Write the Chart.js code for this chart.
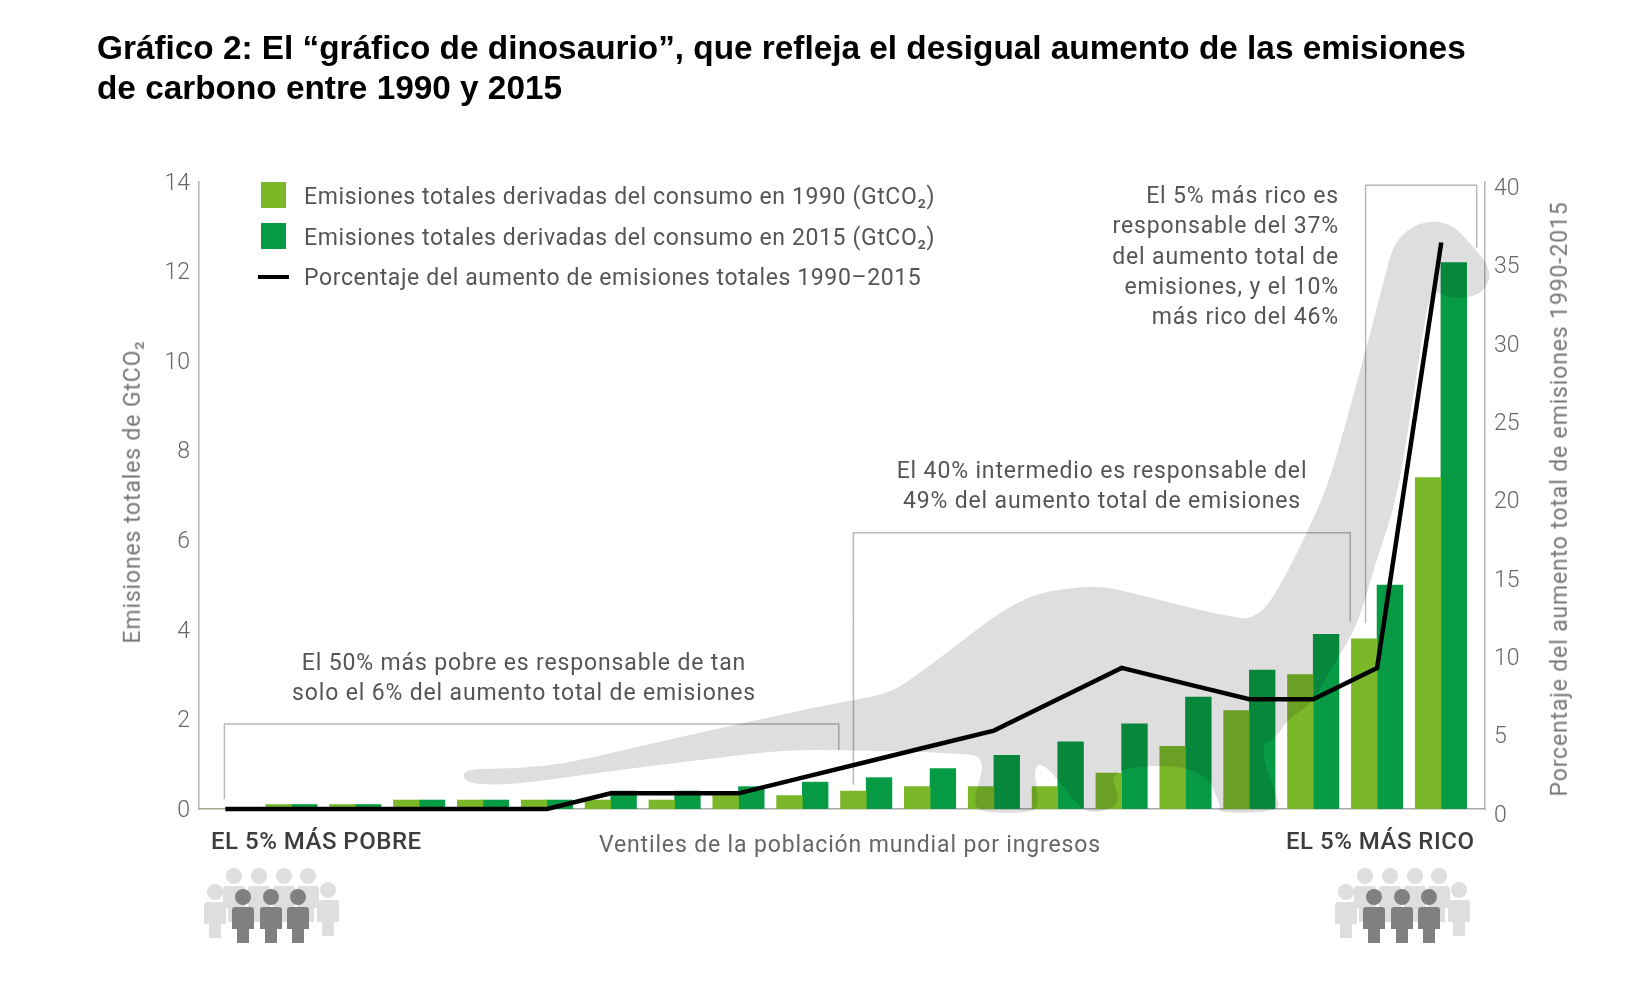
<!DOCTYPE html>
<html lang="es">
<head>
<meta charset="utf-8">
<title>Gráfico de dinosaurio</title>
<script src="https://cdn.jsdelivr.net/npm/chart.js@4"></script>
<style>
    html, body { margin: 0; background: #fff; }
    #page { position: relative; width: 1650px; height: 1006px; overflow: hidden; }
    #chart { position: absolute; left: 0; top: 0; }
    h1 {
        position: absolute; left: 97px; top: 28px; margin: 0; width: 1500px;
        font: bold 33.35px/40px "Liberation Sans", Arial, sans-serif; color: #000;
    }
    .txt {
        position: absolute; white-space: nowrap;
        font: 400 23px/30.3px Roboto, sans-serif; letter-spacing: .85px; color: #555;
    }
    .center { transform: translateX(-50%); text-align: center; }
    .right { transform: translateX(-100%); text-align: right; }
    .strong { font-weight: 500; font-size: 24px; letter-spacing: .5px; color: #3d3d3d; }
    .rot { transform: translate(-50%, -50%) rotate(-90deg); color: #777; }
    .swatch { position: absolute; left: 261px; width: 25px; height: 26px; }
    #people1, #people2 { position: absolute; top: 860px; width: 160px; height: 100px; }
</style>
</head>
<body>
<div id="page">
    <canvas id="chart" width="1650" height="1006"></canvas>
    <h1>Gráfico 2: El “gráfico de dinosaurio”, que refleja el desigual aumento de las emisiones<br>de carbono entre 1990 y 2015</h1>
    <div id="legend"></div>
    <div class="txt center" style="left:524px; top:648px;">El 50% más pobre es responsable de tan<br>solo el 6% del aumento total de emisiones</div>
    <div class="txt center" style="left:1102px; top:456px;">El 40% intermedio es responsable del<br>49% del aumento total de emisiones</div>
    <div class="txt right" style="left:1339px; top:181px;">El 5% más rico es<br>responsable del 37%<br>del aumento total de<br>emisiones, y el 10%<br>más rico del 46%</div>
    <div class="txt strong" style="left:211px; top:826px;">EL 5% MÁS POBRE</div>
    <div class="txt strong" style="left:1286px; top:826px;">EL 5% MÁS RICO</div>
    <div class="txt center" style="left:850px; top:830px; color:#666;">Ventiles de la población mundial por ingresos</div>
    <div class="txt rot" style="left:133px; top:492px;">Emisiones totales de GtCO₂</div>
    <div class="txt rot" style="left:1560px; top:499px;">Porcentaje del aumento total de emisiones 1990-2015</div>
    <svg id="people1" style="left:195px;" viewBox="0 0 160 100"><use href="#crowd"></use></svg>
    <svg id="people2" style="left:1326px;" viewBox="0 0 160 100"><use href="#crowd"></use></svg>
    <svg width="0" height="0" style="position:absolute">
        <defs>
            <g id="man">
                <circle cx="0" cy="0" r="8"></circle>
                <path d="M-8 10 H8 Q11 10 11 13 V32 H6 V46 H-6 V32 H-11 V13 Q-11 10 -8 10 Z"></path>
            </g>
            <g id="crowd">
                <g fill="#dedede">
                    <use href="#man" x="39" y="16"></use>
                    <use href="#man" x="64" y="16"></use>
                    <use href="#man" x="89" y="16"></use>
                    <use href="#man" x="113" y="16"></use>
                    <use href="#man" x="20" y="32"></use>
                    <use href="#man" x="133" y="30"></use>
                </g>
                <g fill="#808080">
                    <use href="#man" x="48" y="37"></use>
                    <use href="#man" x="76" y="37"></use>
                    <use href="#man" x="103" y="37"></use>
                </g>
            </g>
        </defs>
    </svg>
</div>
<script>
// 数据
const ventiles = ['V1', 'V2', 'V3', 'V4', 'V5', 'V6', 'V7', 'V8', 'V9', 'V10', 'V11', 'V12', 'V13', 'V14', 'V15', 'V16', 'V17', 'V18', 'V19', 'V20'];
const emissions1990 = [0, 0.1, 0.1, 0.2, 0.2, 0.2, 0.2, 0.2, 0.3, 0.3, 0.4, 0.5, 0.5, 0.5, 0.8, 1.4, 2.2, 3.0, 3.8, 7.4];
const emissions2015 = [0, 0.1, 0.1, 0.2, 0.2, 0.2, 0.4, 0.4, 0.5, 0.6, 0.7, 0.9, 1.2, 1.5, 1.9, 2.5, 3.1, 3.9, 5.0, 12.2];
const increaseShare = [0, 0, 0, 0, 0, 0, 1, 1, 1, 2, 3, 4, 5, 7, 9, 8, 7, 7, 9, 36];
const legendLabels = [
    'Emisiones totales derivadas del consumo en 1990 (GtCO₂)',
    'Emisiones totales derivadas del consumo en 2015 (GtCO₂)',
    'Porcentaje del aumento de emisiones totales 1990–2015'
];
const leftTicks = [0, 2, 4, 6, 8, 10, 12, 14];
const rightTicks = [0, 5, 10, 15, 20, 25, 30, 35, 40];

// 恐龙轮廓 (x: ventil, y: GtCO2)
const dinoX = [3.70, 4.53, 5.31, 6.10, 7.13, 8.18, 9.23, 10.22, 10.53, 11.05, 11.58, 12.10, 12.61, 13.14, 13.66, 14.18, 14.71, 15.23, 15.74, 16.01, 16.28, 16.59, 16.90, 17.22, 17.47, 17.78, 18.00, 18.20, 18.31, 18.56, 18.88, 19.19, 19.41, 19.57, 19.72, 19.78, 19.66, 19.41, 19.09, 18.88, 18.78, 18.56, 18.31, 17.94, 17.69, 17.26, 17.00, 16.59, 16.43, 16.14, 16.48, 16.43, 16.01, 15.49, 15.57, 15.26, 13.77, 14.01, 13.66, 13.35, 12.83, 12.61, 12.72, 12.52, 11.83, 11.66, 11.89, 11.42, 9.75, 8.70, 7.66, 6.61, 5.57, 4.53, 4.00, 3.70];
const dinoY = [0.90, 0.90, 1.02, 1.28, 1.62, 1.95, 2.28, 2.54, 2.72, 3.26, 3.84, 4.40, 4.78, 4.93, 4.98, 4.82, 4.62, 4.44, 4.29, 4.24, 4.51, 5.27, 6.16, 7.19, 8.40, 10.03, 11.21, 12.33, 12.70, 13.02, 13.14, 13.03, 12.70, 12.44, 12.19, 11.88, 11.54, 11.41, 11.43, 11.59, 11.21, 9.13, 6.90, 5.34, 4.06, 3.10, 2.37, 1.99, 1.61, 1.38, 0.13, -0.02, -0.09, -0.07, 0.02, 0.98, 0.94, 0.13, -0.09, -0.02, 0.98, 0.98, 0.04, -0.09, -0.09, 0.13, 1.16, 1.25, 1.32, 1.32, 1.14, 0.96, 0.76, 0.56, 0.54, 0.62];

// 括号 (x0, x1, 顶部, 左端, 右端)
const brackets = [
    [-0.05, 9.57, 1.90, 0.22, 1.32],
    [9.80, 17.58, 6.17, 0.54, 4.18],
    [17.82, 19.56, 13.93, 4.15, 12.53]
];

const lightGreen = '#7ab829';
const darkGreen = '#069b44';

function points(values) {
    return values.map((v, i) => ({ x: i, y: v }));
}

// 图例
function renderLegend() {
    const legend = document.getElementById('legend');
    const tops = [182, 223];
    tops.forEach((top, i) => {
        const box = document.createElement('div');
        box.className = 'swatch';
        box.style.top = top + 'px';
        box.style.background = i === 0 ? lightGreen : darkGreen;
        legend.appendChild(box);
    });
    const dash = document.createElement('div');
    dash.style.cssText = 'position:absolute;left:258px;top:275px;width:31px;height:4px;background:#000;';
    legend.appendChild(dash);
    legendLabels.forEach((label, i) => {
        const item = document.createElement('div');
        item.className = 'txt';
        item.style.left = '304px';
        item.style.letterSpacing = '.62px';
        item.style.top = (182 + i * 40.5) + 'px';
        item.textContent = label;
        legend.appendChild(item);
    });
}

// 括号线
const bracketPlugin = {
    id: 'brackets',
    beforeDatasetsDraw(chart) {
        const { ctx, scales } = chart;
        ctx.save();
        ctx.strokeStyle = '#b9b9b9';
        ctx.lineWidth = 1.5;
        brackets.forEach(b => {
            ctx.beginPath();
            ctx.moveTo(scales.x.getPixelForValue(b[0]), scales.yLeft.getPixelForValue(b[3]));
            ctx.lineTo(scales.x.getPixelForValue(b[0]), scales.yLeft.getPixelForValue(b[2]));
            ctx.lineTo(scales.x.getPixelForValue(b[1]), scales.yLeft.getPixelForValue(b[2]));
            ctx.lineTo(scales.x.getPixelForValue(b[1]), scales.yLeft.getPixelForValue(b[4]));
            ctx.stroke();
        });
        ctx.restore();
    }
};

// 恐龙剪影，用正片叠底盖在柱子上
const dinoPlugin = {
    id: 'dino',
    afterDatasetsDraw(chart) {
        const { ctx, scales } = chart;
        const pts = dinoX.map((x, i) => [scales.x.getPixelForValue(x), scales.yLeft.getPixelForValue(dinoY[i])]);
        const mid = (a, b) => [(a[0] + b[0]) / 2, (a[1] + b[1]) / 2];
        ctx.save();
        ctx.globalCompositeOperation = 'multiply';
        ctx.fillStyle = '#dedede';
        ctx.beginPath();
        const start = mid(pts[pts.length - 1], pts[0]);
        ctx.moveTo(start[0], start[1]);
        pts.forEach((p, i) => {
            const m = mid(p, pts[(i + 1) % pts.length]);
            ctx.quadraticCurveTo(p[0], p[1], m[0], m[1]);
        });
        ctx.closePath();
        ctx.fill();
        ctx.restore();
    }
};

const tickFont = { family: 'Roboto', size: 23, weight: '300' };

new Chart(document.getElementById('chart'), {
    type: 'bar',
    data: {
        labels: ventiles,
        datasets: [
            { type: 'line', label: legendLabels[2], data: points(increaseShare), yAxisID: 'yRight', borderColor: '#000', borderWidth: 4.5, borderCapStyle: 'square', pointRadius: 0, tension: 0, clip: 8, order: 0 },
            { label: legendLabels[0], data: points(emissions1990), yAxisID: 'yLeft', backgroundColor: lightGreen, barThickness: 25.7, order: 1 },
            { label: legendLabels[1], data: points(emissions2015), yAxisID: 'yLeft', backgroundColor: darkGreen, barThickness: 25.7, order: 1 }
        ]
    },
    options: {
        responsive: false,
        animation: false,
        events: [],
        layout: { autoPadding: false, padding: { top: 182, bottom: 197, left: 0, right: 0 } },
        plugins: { legend: { display: false }, title: { display: false }, tooltip: { enabled: false } },
        scales: {
            x: {
                type: 'linear',
                offset: false,
                min: -0.448,
                max: 19.69,
                afterFit(scale) { scale.height = 0; },
                grid: { display: false },
                border: { color: '#a8a8a8', width: 1.5 },
                ticks: { display: false }
            },
            yLeft: {
                position: 'left',
                min: 0,
                max: 14,
                afterFit(scale) { scale.width = 199; },
                afterBuildTicks(scale) { scale.ticks = leftTicks.map(value => ({ value })); },
                grid: { display: false, drawTicks: false },
                border: { color: '#b5b5b5', width: 1.5 },
                ticks: { font: tickFont, color: '#666', padding: 9, autoSkip: false, labelOffset: 2 }
            },
            yRight: {
                position: 'right',
                min: 0,
                max: 40,
                afterFit(scale) { scale.width = 165; },
                afterBuildTicks(scale) { scale.ticks = rightTicks.map(value => ({ value })); },
                grid: { display: false, drawTicks: false },
                border: { color: '#b5b5b5', width: 1.5 },
                ticks: { font: tickFont, color: '#666', padding: 9, autoSkip: false, labelOffset: 7 }
            }
        }
    },
    plugins: [bracketPlugin, dinoPlugin]
});

renderLegend();
</script>
</body>
</html>
